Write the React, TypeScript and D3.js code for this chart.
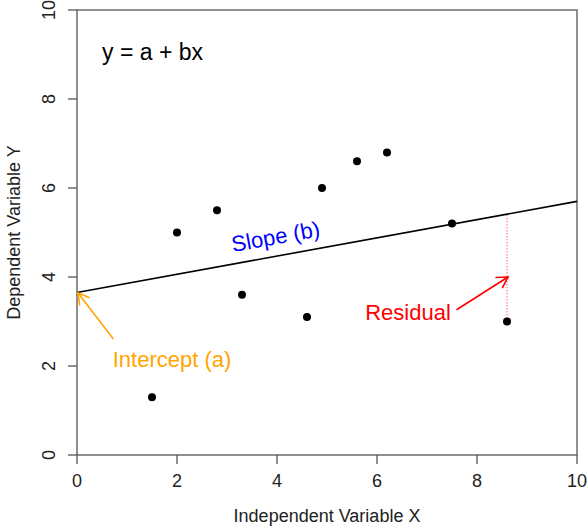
import React from "react";
import * as d3 from "d3";

const xValues = [1.5, 2, 2.8, 3.3, 4.6, 4.9, 5.6, 6.2, 7.5, 8.6];
const yValues = [1.3, 5, 5.5, 3.6, 3.1, 6, 6.6, 6.8, 5.2, 3];
const xTicks = [0, 2, 4, 6, 8, 10];
const yTicks = [0, 2, 4, 6, 8, 10];
const intercept = 3.65;
const slope = 0.205;
const residualX = 8.6;
const residualY = 3;
const interceptArrow = [[0.72, 2.62], [0.02, 3.64]];
const residualArrow = [[7.6, 3.27], [8.62, 4.0]];

const W = 588, H = 527;
const left = 77, right = 577, top = 10, bottom = 455;
const FONT = "'Liberation Sans', Arial, Helvetica, sans-serif";

function Arrow({ p0, p1, color }: { p0: number[]; p1: number[]; color: string }) {
  const ang = Math.atan2(p1[1] - p0[1], p1[0] - p0[0]);
  const L = 12, a = Math.PI / 6;
  const h1 = [p1[0] - L * Math.cos(ang - a), p1[1] - L * Math.sin(ang - a)];
  const h2 = [p1[0] - L * Math.cos(ang + a), p1[1] - L * Math.sin(ang + a)];
  return (
    <g stroke={color} strokeWidth={1.6} fill="none" strokeLinecap="round">
      <line x1={p0[0]} y1={p0[1]} x2={p1[0]} y2={p1[1]} />
      <polyline points={`${h1[0]},${h1[1]} ${p1[0]},${p1[1]} ${h2[0]},${h2[1]}`} />
    </g>
  );
}

export default function App() {
  const x = d3.scaleLinear().domain([0, 10]).range([left, right]);
  const y = d3.scaleLinear().domain([0, 10]).range([bottom, top]);
  const fit = (v: number) => intercept + slope * v;
  const axisColor = "#555";
  const slopeAngle = (Math.atan2(y(fit(10)) - y(fit(0)), x(10) - x(0)) * 180) / Math.PI;
  const sx = x(4), sy = y(fit(4)) - 12;
  const pt = (p: number[]) => [x(p[0]), y(p[1])];
  return (
    <svg width={W} height={H} style={{ position: "absolute", left: 0, top: 0, background: "#fff" }} fontFamily={FONT}>
      <rect x={0} y={0} width={W} height={H} fill="#fff" />
      <rect x={left} y={top} width={right - left} height={bottom - top} fill="none" stroke={axisColor} strokeWidth={1.3} />
      {yTicks.map((t) => (
        <g key={"y" + t}>
          <line x1={left - 9} x2={left} y1={y(t)} y2={y(t)} stroke={axisColor} strokeWidth={1.3} />
          <text transform={`translate(55,${y(t)}) rotate(-90)`} textAnchor="middle" fontSize={18} fill="#222">{t}</text>
        </g>
      ))}
      {xTicks.map((t) => (
        <g key={"x" + t}>
          <line x1={x(t)} x2={x(t)} y1={bottom} y2={bottom + 9} stroke={axisColor} strokeWidth={1.3} />
          <text x={x(t)} y={487} textAnchor="middle" fontSize={18} fill="#222">{t}</text>
        </g>
      ))}
      <text x={(left + right) / 2} y={522} textAnchor="middle" fontSize={18} fill="#222">Independent Variable X</text>
      <text transform={`translate(20,${(top + bottom) / 2}) rotate(-90)`} textAnchor="middle" fontSize={18} fill="#222">Dependent Variable Y</text>
      <line x1={x(0)} y1={y(fit(0))} x2={x(10)} y2={y(fit(10))} stroke="#000" strokeWidth={1.6} />
      <line x1={x(residualX)} x2={x(residualX)} y1={y(residualY)} y2={y(fit(residualX))} stroke="#ff3030" strokeWidth={1} strokeDasharray="1.5,1.5" opacity={0.75} />
      {xValues.map((v, i) => (
        <circle key={i} cx={x(v)} cy={y(yValues[i])} r={4} fill="#000" />
      ))}
      <text x={102} y={60} fontSize={23} fill="#000">y = a + bx</text>
      <text transform={`translate(${sx},${sy}) rotate(${slopeAngle})`} textAnchor="middle" fontSize={22} fill="#0000ff">Slope (b)</text>
      <Arrow p0={pt(interceptArrow[0])} p1={pt(interceptArrow[1])} color="#ffa500" />
      <text x={172} y={367} textAnchor="middle" fontSize={22} fill="#ffa500">Intercept (a)</text>
      <Arrow p0={pt(residualArrow[0])} p1={pt(residualArrow[1])} color="#ff0000" />
      <text x={408} y={320} textAnchor="middle" fontSize={22} fill="#ff0000">Residual</text>
    </svg>
  );
}
